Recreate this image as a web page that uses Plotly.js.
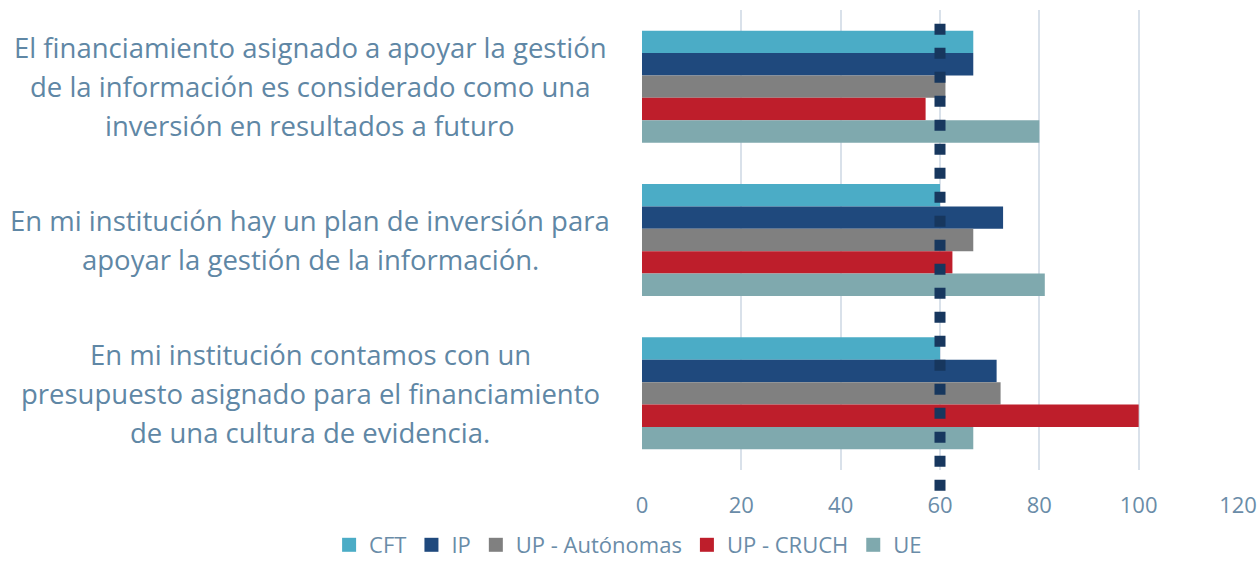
<!DOCTYPE html>
<html>
<head>
<meta charset="utf-8">
<script src="https://cdn.plot.ly/plotly-3.0.1.min.js"></script>
<style>html,body{margin:0;padding:0;background:#fff;}#chart{width:1260px;height:566px;}</style>
</head>
<body>
<div id="chart"></div>
<script>
var categories = [
  "El financiamiento asignado a apoyar la gestión<br>de la información es considerado como una<br>inversión en resultados a futuro",
  "En mi institución hay un plan de inversión para<br>apoyar la gestión de la información.",
  "En mi institución contamos con un<br>presupuesto asignado para el financiamiento<br>de una cultura de evidencia."
];
var seriesNames = ["CFT", "IP", "UP - Autónomas", "UP - CRUCH", "UE"];
var cftValues = [66.7, 60.0, 60.0];
var ipValues = [66.7, 72.7, 71.4];
var autonomasValues = [61.1, 66.7, 72.2];
var cruchValues = [57.1, 62.5, 100.0];
var ueValues = [80.0, 81.1, 66.7];
var referenceValue = 60;
var xTicks = [0, 20, 40, 60, 80, 100, 120];

var colors = ["#4bacc6", "#1f497d", "#808080", "#be1e2b", "#7fa9ae"];
var allValues = [cftValues, ipValues, autonomasValues, cruchValues, ueValues];
var catIds = ["c0", "c1", "c2"];

var traces = allValues.map(function (vals, i) {
  return {
    type: "bar",
    orientation: "h",
    name: seriesNames[i],
    x: vals,
    y: catIds,
    marker: {color: colors[i]},
    showlegend: false,
    hoverinfo: "x+name"
  };
});
// legend entries with square symbols
seriesNames.forEach(function (n, i) {
  traces.push({
    type: "scatter", mode: "markers", name: n,
    x: [null], y: [null],
    marker: {symbol: "square", size: 14, color: colors[i]},
    showlegend: true, hoverinfo: "skip"
  });
});

var labelColor = "#5f87a5";
var lineGap = 39;
var annotations = [];
categories.forEach(function (c, i) {
  var lines = c.split("<br>");
  var mid = (lines.length - 1) / 2;
  lines.forEach(function (ln, j) {
    annotations.push({
      xref: "paper", yref: "y",
      x: -0.557, y: catIds[i],
      xanchor: "center", yanchor: "middle",
      yshift: (mid - j) * lineGap,
      text: ln, showarrow: false, align: "center",
      font: {family: "Open Sans, sans-serif", size: 27.5, color: labelColor}
    });
  });
});

var layout = {
  width: 1260, height: 566,
  margin: {l: 642, r: 22, t: 10, b: 96},
  paper_bgcolor: "#ffffff",
  plot_bgcolor: "#ffffff",
  barmode: "group",
  bargap: 0.27,
  bargroupgap: 0,
  showlegend: true,
  legend: {
    orientation: "h", xref: "paper", x: -0.525, xanchor: "left",
    yref: "container", y: 0, yanchor: "bottom",
    bgcolor: "rgba(0,0,0,0)",
    font: {family: "Open Sans, sans-serif", size: 22, color: "#6a8ca8"},
    traceorder: "normal", itemwidth: 30
  },
  xaxis: {
    range: [0, 120],
    tickvals: xTicks,
    ticktext: xTicks.map(String),
    showgrid: true, gridcolor: "#d9e1ea", gridwidth: 2,
    zeroline: false, showline: false,
    ticks: "", ticklabelstandoff: 20,
    tickfont: {family: "Open Sans, sans-serif", size: 22, color: "#6a8ca8"}
  },
  yaxis: {
    type: "category",
    categoryorder: "array", categoryarray: catIds,
    autorange: "reversed",
    showticklabels: false, showgrid: false, zeroline: false, showline: false, ticks: ""
  },
  annotations: annotations,
  shapes: [{
    type: "line", xref: "x", yref: "paper",
    x0: referenceValue, x1: referenceValue, y0: 0.97, y1: -0.052,
    line: {color: "#17375e", width: 11, dash: "11px,13px"},
    layer: "above"
  }]
};

Plotly.newPlot("chart", traces, layout, {displayModeBar: false, staticPlot: true});
</script>
</body>
</html>
